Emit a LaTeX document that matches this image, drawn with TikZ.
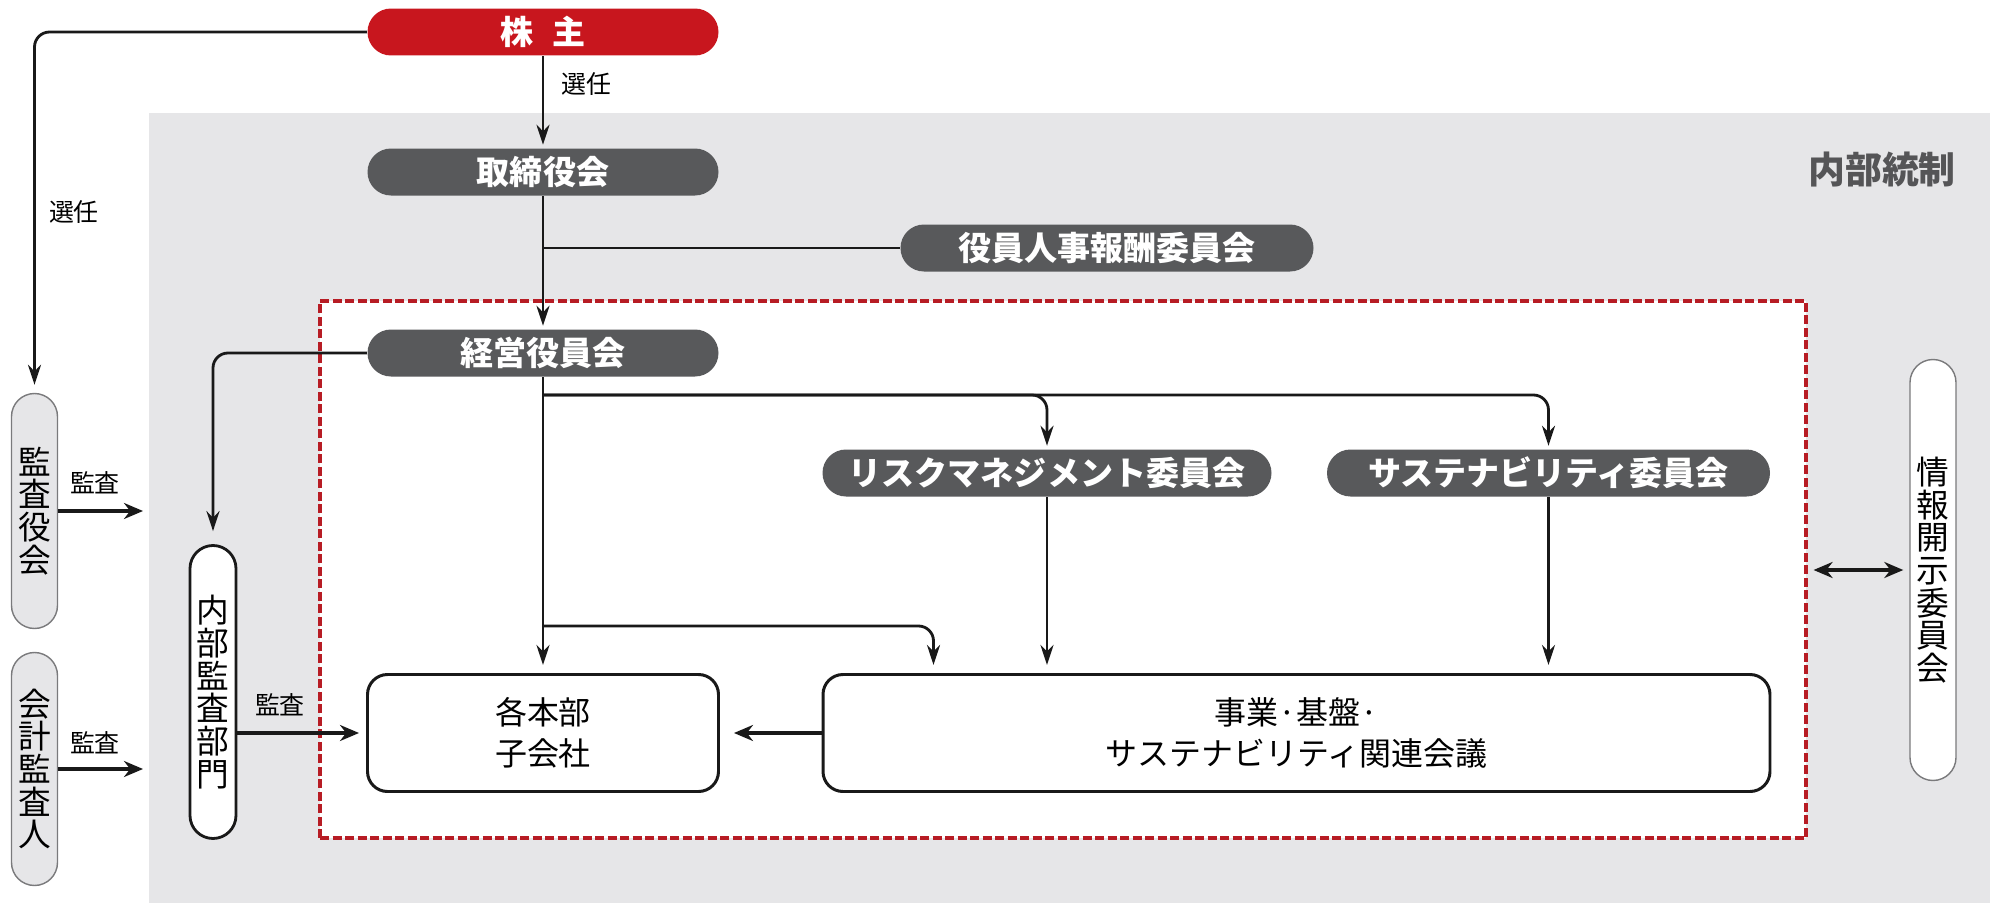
\documentclass[tikz,border=0pt]{standalone}
\usepackage{fontspec}
\setmainfont{Noto Sans CJK JP}
\usetikzlibrary{arrows.meta}

\definecolor{kabured}{HTML}{C8161E}
\definecolor{pillgray}{HTML}{58595B}
\definecolor{bggray}{HTML}{E6E6E8}
\definecolor{dashred}{HTML}{B71C24}
\definecolor{linegray}{HTML}{7A7A7C}
\definecolor{titlegray}{HTML}{555557}

\begin{document}
\begin{tikzpicture}[x=0.1mm, y=-0.1mm, >={Stealth[length=2mm,width=1.3mm]},
	darkpill/.style={fill=pillgray, text=white, font=\fontsize{9.4}{9.4}\selectfont\bfseries, rounded corners=2.35mm, minimum height=4.7mm, inner sep=0pt},
	whitebox/.style={draw=black!90, fill=white, line width=0.85pt, rounded corners=2mm, minimum height=11.7mm, align=center, font=\fontsize{9.1}{11.6}\selectfont},
	vpill/.style={rounded corners=2.3mm, minimum width=4.6mm, inner sep=0pt, align=center, font=\fontsize{9.3}{9.3}\selectfont},
	lbl/.style={font=\fontsize{7.1}{7.1}\selectfont, inner sep=0pt},
	conn/.style={line width=0.8pt, draw=black!90},
	thickconn/.style={line width=1.2pt, draw=black!90, >={Stealth[length=1.9mm,width=1.6mm]}}]
	\useasboundingbox (0,0) rectangle (2000,920);
	\node[fill=bggray, minimum width=184.1mm, minimum height=79mm, inner sep=0pt] (naibu) at (1069.5,508) {};
	\node[font=\fontsize{10.5}{10.5}\selectfont\bfseries, text=titlegray] (naibutitle) at (1882,170) {内部統制};
	\node[draw=dashred, fill=white, line width=0.9pt, dash pattern=on 0.9mm off 0.35mm, minimum width=148.6mm, minimum height=53.7mm, inner sep=0pt] (zone) at (1063,569.5) {};
	\node[darkpill, fill=kabured, minimum width=35.1mm] (kabu) at (543,32) {株\hspace{.6em}主};
	\node[darkpill, minimum width=35.1mm] (torishimari) at (543,172) {取締役会};
	\node[darkpill, minimum width=41.3mm] (hoshu) at (1107,248) {役員人事報酬委員会};
	\node[darkpill, minimum width=35.1mm] (keiei) at (543,353) {経営役員会};
	\node[darkpill, minimum width=44.9mm] (risk) at (1047,473) {リスクマネジメント委員会};
	\node[darkpill, minimum width=44.3mm] (sustain) at (1548.5,473) {サステナビリティ委員会};
	\node[whitebox, minimum width=35.1mm] (honbu) at (543,733) {各本部\\子会社};
	\node[whitebox, minimum width=94.7mm] (kaigi) at (1296.5,733) {事業·基盤·\\サステナビリティ関連会議};
	\node[vpill, fill=white, draw=black!90, line width=0.8pt, minimum height=29.3mm] (naibukansa) at (213,692) {内\\部\\監\\査\\部\\門};
	\node[vpill, fill=bggray, draw=linegray, line width=0.4pt, minimum height=23.5mm] (kansayaku) at (34.5,511) {監\\査\\役\\会};
	\node[vpill, fill=bggray, draw=linegray, line width=0.4pt, minimum height=23.3mm] (kaikei) at (34.5,769) {会\\計\\監\\査\\人};
	\node[vpill, fill=white, draw=linegray, line width=0.4pt, minimum height=42.1mm] (joho) at (1933,570) {情\\報\\開\\示\\委\\員\\会};
	\node[lbl] (senninA) at (586,84) {選任};
	\node[lbl] (senninB) at (74,212) {選任};
	\node[lbl] (kansaA) at (95,483) {監査};
	\node[lbl] (kansaB) at (95,743) {監査};
	\node[lbl] (kansaC) at (280,705) {監査};
	\coordinate (brrisk) at (543,395);
	\coordinate (brkaigi) at (543,626);
	\coordinate (kansaend1) at (143,511);
	\coordinate (kansaend2) at (143,769);
	\draw[conn, ->, shorten >=0.3mm] (kabu.south) -- (torishimari.north);
	\draw[conn, ->, shorten >=0.3mm] (torishimari.south) -- (keiei.north);
	\draw[conn] (torishimari.south |- hoshu.west) -- (hoshu.west);
	\draw[conn, ->, rounded corners=1.5mm, shorten >=0.8mm] (kabu.west) -| (kansayaku.north);
	\draw[conn, ->, rounded corners=1.5mm, shorten >=1.3mm] (keiei.west) -| (naibukansa.north);
	\draw[conn, ->, rounded corners=1.5mm, shorten >=0.3mm] (brrisk) -| (risk.north);
	\draw[conn, ->, rounded corners=1.5mm, shorten >=0.3mm] (brrisk) -| (sustain.north);
	\draw[conn, ->, shorten >=0.8mm] (keiei.south) -- (honbu.north);
	\draw[conn, ->, rounded corners=1.5mm, shorten >=0.8mm] (brkaigi) -| ([xshift=11.2mm]kaigi.north west);
	\draw[conn, ->, shorten >=0.8mm] (risk.south) -- (risk.south |- kaigi.north);
	\draw[conn, ->, shorten >=0.8mm] (sustain.south) -- (sustain.south |- kaigi.north);
	\draw[thickconn, ->, shorten >=1.4mm] (kaigi.west) -- (honbu.east);
	\draw[thickconn, ->, shorten >=0.7mm] (naibukansa.east |- honbu.west) -- (honbu.west);
	\draw[thickconn, ->] (kansayaku.east) -- (kansaend1);
	\draw[thickconn, ->] (kaikei.east) -- (kansaend2);
	\draw[thickconn, <->, shorten <=0.6mm, shorten >=0.6mm] (zone.east |- joho.west) -- (joho.west);
\end{tikzpicture}
\end{document}
